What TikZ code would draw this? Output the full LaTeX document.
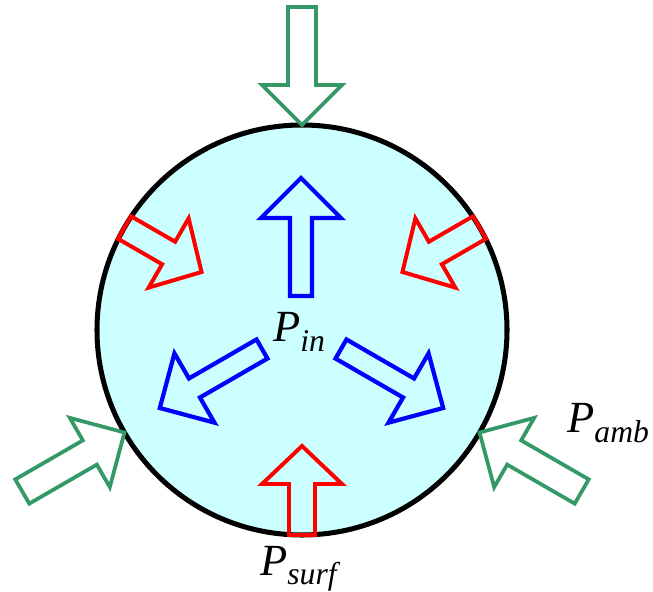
\documentclass[tikz,border=0pt]{standalone}
\usepackage{fontspec}
\setmainfont{Liberation Serif}
\definecolor{ambgreen}{RGB}{51,153,102}
\definecolor{drop}{RGB}{204,255,255}
% block arrow: style, angle, length, shaft width, head length
\newcommand{\blockarrow}[5]{%
  \draw[#1, rotate=#2] (0,-#4/2) -- ({#3-#5},-#4/2) -- ({#3-#5},-40) -- (#3,0)
    -- ({#3-#5},40) -- ({#3-#5},#4/2) -- (0,#4/2) -- cycle;}
\newcommand{\plabel}[1]{{\fontsize{38}{40}\selectfont\itshape P}%
  \raisebox{-8.5pt}{\fontsize{27}{28}\selectfont\itshape #1}}
\begin{document}
\begin{tikzpicture}[x=0.03cm,y=0.03cm,line join=miter]
\useasboundingbox (0,0) rectangle (653,591);
\coordinate (c) at (302,261);
\draw[line width=4.3pt, fill=drop] (c) circle (205);

\begin{scope}[shift={(c)}]
% ambient
\foreach \a in {90,210,330}{
  \begin{scope}[shift={(\a:323)}]
  \blockarrow{ambgreen, line width=3.2pt, fill=white}{\a+180}{118}{28}{40}
  \end{scope}}
% surface
\foreach \a in {30,150,270}{
  \begin{scope}[shift={(\a:205)}]
  \blockarrow{red, line width=3.4pt}{\a+180}{89}{26}{38}
  \end{scope}}
% inner
\begin{scope}[shift={(-1,34)}]
\blockarrow{blue, line width=3.6pt}{90}{118}{22}{40}
\end{scope}
\begin{scope}[shift={(-40,-19)}]
\blockarrow{blue, line width=3.6pt}{210}{118}{22}{40}
\end{scope}
\begin{scope}[shift={(39,-19)}]
\blockarrow{blue, line width=3.6pt}{330}{118}{22}{40}
\end{scope}
\end{scope}

\node[anchor=base west, inner sep=0] (pin) at (273,249) {\plabel{in}};
\node[anchor=base west, inner sep=0] (pamb) at (567,158) {\plabel{amb}};
\node[anchor=base west, inner sep=0] (psurf) at (260,16) {\plabel{surf}};
\end{tikzpicture}
\end{document}
